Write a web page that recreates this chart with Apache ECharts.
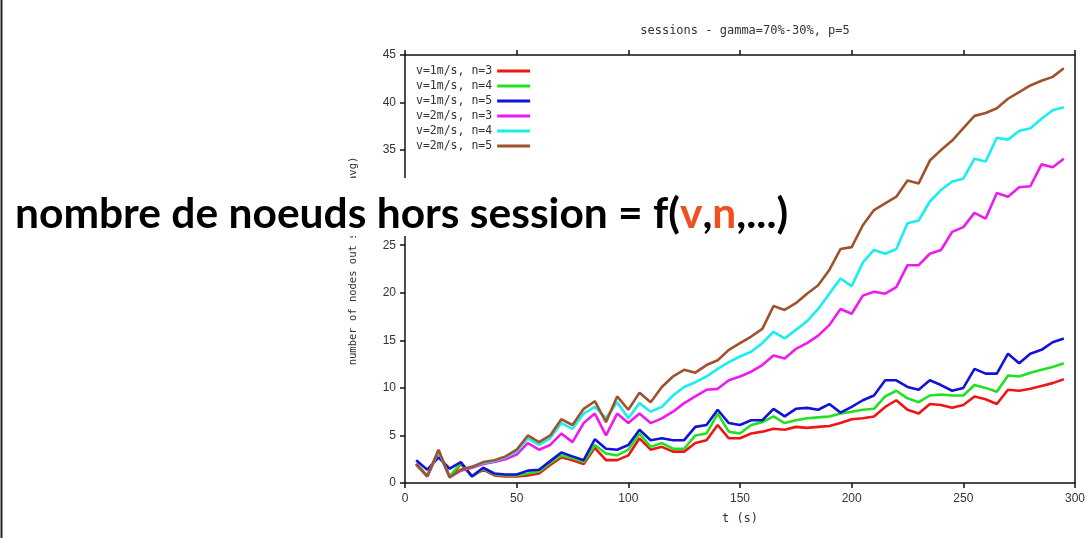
<!DOCTYPE html>
<html>
<head>
<meta charset="utf-8">
<script src="https://cdn.jsdelivr.net/npm/echarts@6/dist/echarts.min.js"></script>
<style>
html,body{margin:0;padding:0;background:#fff;}
#chart{width:1091px;height:538px;}
</style>
</head>
<body>
<div id="chart"></div>
<script>
// ---- data ----
const times = [5,10,15,20,25,30,35,40,45,50,55,60,65,70,75,80,85,90,95,100,105,110,115,120,125,130,135,140,145,150,155,160,165,170,175,180,185,190,195,200,205,210,215,220,225,230,235,240,245,250,255,260,265,270,275,280,285,290,295];
const seriesNames = ["v=1m/s, n=3","v=1m/s, n=4","v=1m/s, n=5","v=2m/s, n=3","v=2m/s, n=4","v=2m/s, n=5"];
const red = [1.9,0.7,3.3,0.6,2.0,0.7,1.4,0.8,0.7,0.7,0.8,1.0,1.9,2.7,2.4,2.0,
  3.7,2.4,2.4,2.9,4.7,3.5,3.8,3.3,3.3,4.2,4.5,6.1,4.7,4.7,5.2,5.4,5.7,5.6,5.9,
  5.8,5.9,6.0,6.3,6.7,6.8,7.0,8.0,8.7,7.7,7.3,8.3,8.2,7.9,8.2,9.1,8.8,8.3,9.8,9.7,9.9,10.2,10.5,10.9];
const green = [2.0,0.8,3.3,0.7,2.1,0.7,1.5,0.9,0.8,0.8,1.0,1.2,2.1,2.9,2.6,2.2,
  4.0,3.1,2.9,3.5,5.2,3.8,4.2,3.6,3.6,5.0,5.2,7.3,5.4,5.2,6.1,6.4,7.0,6.3,6.6,
  6.8,6.9,7.0,7.3,7.5,7.7,7.8,9.1,9.7,8.9,8.5,9.2,9.3,9.2,9.2,10.3,10.0,9.6,11.3,11.2,11.6,11.9,12.2,12.6];
const blue = [2.4,1.4,2.7,1.5,2.2,0.7,1.6,1.0,0.9,0.9,1.3,1.4,2.3,3.2,2.8,2.4,
  4.6,3.6,3.5,4.0,5.6,4.5,4.7,4.5,4.5,5.9,6.1,7.7,6.3,6.1,6.6,6.6,7.8,7.0,7.8,
  7.9,7.7,8.3,7.4,8.0,8.7,9.2,10.8,10.8,10.1,9.8,10.8,10.3,9.7,10.0,12.0,11.5,11.5,13.6,12.6,13.6,14.0,14.8,15.2];
const magenta = [2.0,0.7,3.4,0.6,1.3,1.6,2.0,2.2,2.5,3.0,4.2,3.5,4.0,5.2,4.3,6.3,
  7.3,5.0,7.3,6.3,7.3,6.3,6.8,7.5,8.4,9.1,9.8,9.9,10.8,11.2,11.7,12.4,13.4,13.1,14.1,
  14.7,15.5,16.6,18.3,17.8,19.7,20.1,19.9,20.6,22.9,22.9,24.1,24.5,26.4,26.9,28.4,27.8,30.5,30.1,31.1,31.2,33.5,33.2,34.1];
const cyan = [2.0,0.7,3.4,0.6,1.4,1.7,2.1,2.3,2.7,3.3,4.7,4.0,4.7,6.3,5.7,7.3,
  8.0,6.8,8.5,6.8,8.4,7.5,8.0,9.2,10.1,10.6,11.2,12.0,12.7,13.3,13.8,14.7,15.9,15.2,16.1,
  17.0,18.3,19.9,21.5,20.7,23.2,24.5,24.1,24.6,27.3,27.6,29.6,30.8,31.7,32.0,34.1,33.8,36.3,36.1,37.0,37.3,38.3,39.2,39.5];
const brown = [2.0,0.7,3.5,0.6,1.4,1.7,2.2,2.4,2.8,3.5,5.0,4.3,5.0,6.7,6.1,7.8,
  8.6,6.4,9.1,7.7,9.5,8.5,10.1,11.2,11.9,11.6,12.4,12.9,14.0,14.7,15.4,16.2,18.6,18.2,18.9,
  19.9,20.8,22.4,24.6,24.8,27.1,28.7,29.4,30.1,31.8,31.5,33.9,35.0,36.0,37.3,38.6,38.9,39.4,40.4,41.1,41.8,42.3,42.7,43.6];
const chartTitle = "sessions - gamma=70%-30%, p=5";
const xName = "t (s)";
const yName = "number of nodes out session (avg)";
const overlayText = "nombre de noeuds hors session = f({o|v},{o|n},...)";

// ---- chart ----
const colors = ["#f01414","#22e022","#1212d8","#ee1aee","#1aeeee","#a0522d"];
const allValues = [red, green, blue, magenta, cyan, brown];
const mono = "DejaVu Sans Mono";
const sans = "Liberation Sans";

const series = allValues.map((vals, i) => ({
  name: seriesNames[i],
  type: 'line',
  xAxisIndex: 0, yAxisIndex: 0,
  data: times.map((t, k) => [t, vals[k]]),
  showSymbol: false,
  symbol: 'none',
  lineStyle: { width: 2.6, color: colors[i] },
  itemStyle: { color: colors[i] },
  z: 2 + i
}));

const chart = echarts.init(document.getElementById('chart'), null, { renderer: 'canvas' });
chart.setOption({
  animation: false,
  backgroundColor: '#fff',
  title: {
    text: chartTitle,
    left: 740, top: 20, textAlign: 'center',
    textStyle: { fontFamily: mono, fontSize: 12, fontWeight: 'normal', color: '#333' }
  },
  legend: {
    data: seriesNames,
    orient: 'vertical',
    left: 411, top: 59,
    align: 'right',
    icon: 'rect',
    itemWidth: 33, itemHeight: 3,
    itemGap: 1,
    textStyle: { fontFamily: mono, fontSize: 11.5, color: '#333', lineHeight: 14 },
    selectedMode: false
  },
  grid: { left: 405, right: 16, top: 55, bottom: 55, containLabel: false },
  xAxis: [{
    type: 'value', min: 0, max: 300, interval: 50,
    name: xName, nameLocation: 'middle', nameGap: 30,
    nameTextStyle: { fontFamily: mono, fontSize: 12, color: '#333' },
    axisLine: { show: true, onZero: false, lineStyle: { color: '#111', width: 1.5 } },
    axisTick: { show: true, inside: false, length: 5, lineStyle: { color: '#111', width: 1.5 } },
    axisLabel: { fontFamily: sans, fontSize: 12, color: '#333', margin: 10 },
    splitLine: { show: false }
  }, {
    type: 'value', position: 'top', min: 0, max: 300, interval: 50,
    axisLine: { show: true, onZero: false, lineStyle: { color: '#111', width: 1.5 } },
    axisTick: { show: true, inside: false, length: 5, lineStyle: { color: '#111', width: 1.5 } },
    axisLabel: { show: false },
    splitLine: { show: false }
  }],
  yAxis: [{
    type: 'value', min: 0, max: 45, interval: 5,
    name: yName, nameLocation: 'middle', nameGap: 46,
    nameTextStyle: { fontFamily: mono, fontSize: 10.5, color: '#333', padding: [0, 0, 0, 16] },
    axisLine: { show: true, onZero: false, lineStyle: { color: '#111', width: 1.5 } },
    axisTick: { show: true, inside: false, length: 5, lineStyle: { color: '#111', width: 1.5 } },
    axisLabel: { fontFamily: sans, fontSize: 12, color: '#333', margin: 9 },
    splitLine: { show: false }
  }, {
    type: 'value', position: 'right', min: 0, max: 45, interval: 5,
    axisLine: { show: true, onZero: false, lineStyle: { color: '#111', width: 1.5 } },
    axisTick: { show: false },
    axisLabel: { show: false },
    splitLine: { show: false }
  }],
  series: series,
  graphic: [{
    type: 'rect', z: 100,
    shape: { x: 0, y: 178, width: 795, height: 58 },
    style: { fill: '#fff' }
  }, {
    type: 'text', z: 101,
    x: 15, y: 214,
    style: {
      text: overlayText,
      fontFamily: 'Lato', fontWeight: 'bold', fontSize: 42.5,
      fill: '#000',
      verticalAlign: 'middle', align: 'left',
      rich: {
        o: { fontFamily: 'Lato', fontWeight: 'bold', fontSize: 42.5, fill: '#f0501e' }
      }
    }
  }, {
    type: 'line', z: 102,
    shape: { x1: 1.5, y1: 0, x2: 1.5, y2: 538 },
    style: { stroke: '#222', lineWidth: 2 }
  }]
});
</script>
</body>
</html>
